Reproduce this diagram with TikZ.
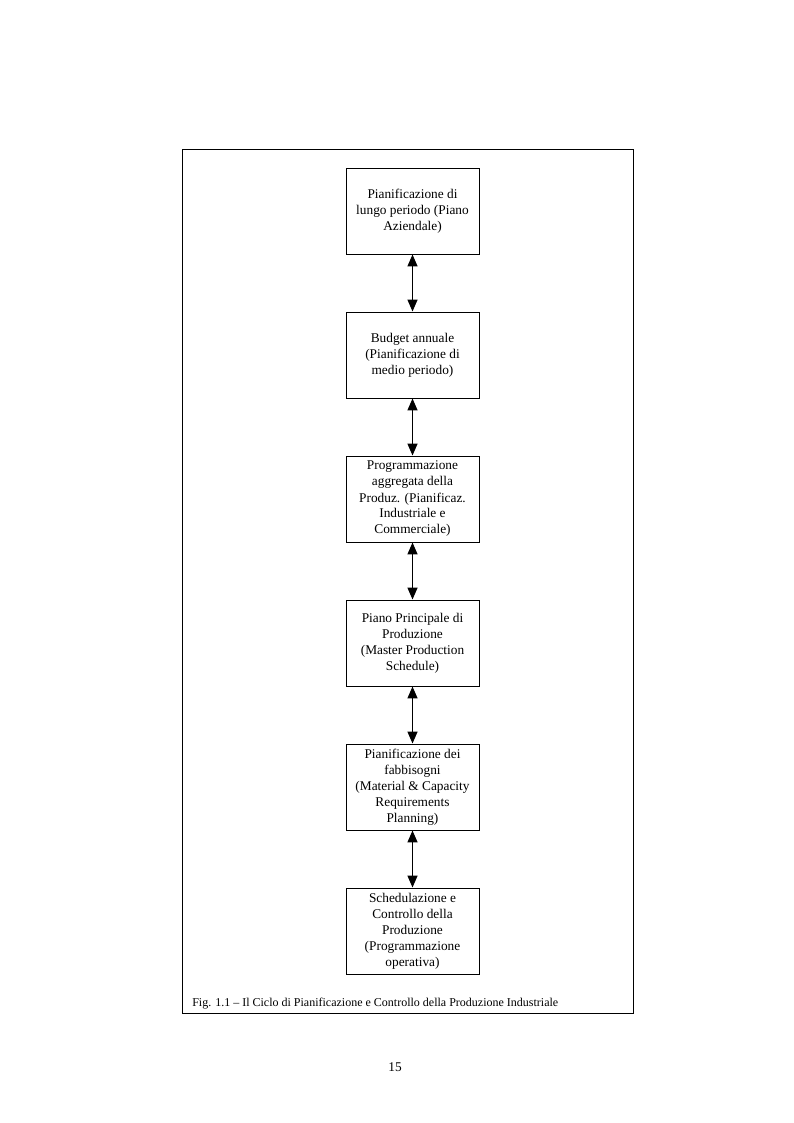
\documentclass[tikz,border=0pt]{standalone}
\usepackage{fontspec}
\setmainfont{Liberation Serif}
\usetikzlibrary{arrows.meta}
\tikzset{
  livello/.style={draw, line width=0.7pt, minimum width=133*0.75pt, minimum height=86*0.75pt, align=center, inner sep=2pt, font=\fontsize{10}{12}\selectfont},
  freccia/.style={{Triangle[width=7.5pt,length=9pt]}-{Triangle[width=7.5pt,length=9pt]}, line width=1.1pt}
}
\begin{document}
\begin{tikzpicture}[x=0.75pt, y=-0.75pt]
        \useasboundingbox (0,0) rectangle (793,1123);
        \draw[line width=0.7pt] (182,149) rectangle (633,1013);
        \node[livello] (lungo) at (412.5,211) {Pianificazione di\\lungo periodo (Piano\\Aziendale)};
        \node[livello] (budget) at (412.5,355) {Budget annuale\\(Pianificazione di\\medio periodo)};
        \node[livello] (aggregata) at (412.5,499) {Programmazione\\aggregata della\\Produz. (Pianificaz.\\Industriale e\\Commerciale)};
        \node[livello] (mps) at (412.5,643) {Piano Principale di\\Produzione\\(Master Production\\Schedule)};
        \node[livello] (fabbisogni) at (412.5,787) {Pianificazione dei\\fabbisogni\\(Material \& Capacity\\Requirements\\Planning)};
        \node[livello] (schedul) at (412.5,931) {Schedulazione e\\Controllo della\\Produzione\\(Programmazione\\operativa)};
        \foreach \a/\b in {lungo/budget, budget/aggregata, aggregata/mps, mps/fabbisogni, fabbisogni/schedul} \draw[freccia] (\a) -- (\b);
        \node[anchor=base west, inner sep=0pt, font=\fontsize{9}{10}\selectfont] (didascalia) at (192,1006) {Fig. 1.1 -- Il Ciclo di Pianificazione e Controllo della Produzione Industriale};
        \node[anchor=base, inner sep=0pt, font=\fontsize{10}{12}\selectfont] (pagina) at (395,1071) {15};
    \end{tikzpicture}
\end{document}
